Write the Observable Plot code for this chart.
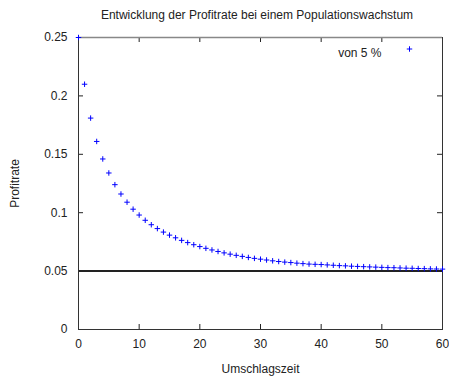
<!DOCTYPE html>
<html>
<head>
<meta charset="utf-8">
<script src="https://cdn.jsdelivr.net/npm/d3@7"></script>
<script src="https://cdn.jsdelivr.net/npm/@observablehq/plot@0.6"></script>
<style>
  body { margin: 0; background: #fff; }
  #title { font-family: "Liberation Sans", Arial, sans-serif; font-size: 12px; color: #222;
           height: 30px; line-height: 30px; padding-left: 78px; width: 358px; text-align: center; white-space: nowrap; }
</style>
</head>
<body>
<div id="title">Entwicklung der Profitrate bei einem Populationswachstum</div>
<div id="chart"></div>
<script>
const turnover = [0,1,2,3,4,5,6,7,8,9,10,11,12,13,14,15,16,17,18,19,20,21,22,23,24,25,26,27,28,29,30,
  31,32,33,34,35,36,37,38,39,40,41,42,43,44,45,46,47,48,49,50,51,52,53,54,55,56,57,58,59,60];
const profitRate = [0.25,0.210,0.181,0.161,0.146,0.134,0.124,0.116,0.109,0.103,0.098,
  0.0935,0.0897,0.0864,0.0834,0.0808,0.0785,0.0763,0.0744,0.0726,0.0710,
  0.0695,0.0681,0.0668,0.0656,0.0645,0.0635,0.0626,0.0617,0.0609,0.0602,
  0.0595,0.0588,0.0582,0.0577,0.0573,0.0568,0.0564,0.0560,0.0558,0.0556,
  0.0553,0.0550,0.0547,0.0545,0.0542,0.0540,0.0538,0.0536,0.0534,0.0532,
  0.0530,0.0529,0.0527,0.0525,0.0524,0.0522,0.0521,0.0519,0.0518,0.0517];
const baseline = [0.05];
const xTicks = [0,10,20,30,40,50,60];
const yTicks = [0,0.05,0.1,0.15,0.2,0.25];
const seriesLabel = "von 5 %";
const xLabel = "Umschlagszeit";
const yLabel = "Profitrate";

const points = turnover.map((t, i) => ({t, r: profitRate[i]}));

const W = 449, H = 346, mt = 7, mb = 47, ml = 78, mr = 7;
const fw = W - ml - mr, fh = H - mt - mb, tk = 5;
const ink = "#222";

const chart = Plot.plot({
  width: W, height: H,
  marginTop: mt, marginBottom: mb, marginLeft: ml, marginRight: mr,
  style: {fontFamily: "'Liberation Sans', Arial, sans-serif", fontSize: "12px", color: ink, background: "#fff"},
  x: {domain: [0, 60]},
  y: {domain: [0, 0.25]},
  marks: [
    Plot.axisX({ticks: xTicks, tickSize: 0, tickPadding: 10, label: xLabel, labelAnchor: "center", labelArrow: "none", labelOffset: 43}),
    Plot.axisY({ticks: yTicks, tickSize: 0, tickPadding: 11, tickFormat: d => String(d), label: yLabel, labelAnchor: "center", labelArrow: "none", labelOffset: 68}),
    Plot.tickX(xTicks, {x: d => d, insetTop: fh - tk, stroke: ink}),
    Plot.tickX(xTicks, {x: d => d, insetBottom: fh - tk, stroke: ink}),
    Plot.tickY(yTicks, {y: d => d, insetRight: fw - tk, stroke: ink}),
    Plot.tickY(yTicks, {y: d => d, insetLeft: fw - tk, stroke: ink}),
    Plot.ruleY(baseline, {stroke: ink, strokeWidth: 2}),
    Plot.frame({stroke: "#333"}),
    Plot.ruleY([0.25], {stroke: "#888", strokeWidth: 1.5}),
    Plot.dot(points, {x: "t", y: "r", symbol: "plus", r: 1.9, stroke: "#0000ff", strokeWidth: 1}),
    Plot.text([seriesLabel], {text: d => d, frameAnchor: "top-right", dx: -61, dy: 11, textAnchor: "end", fill: ink}),
    Plot.dot([seriesLabel], {frameAnchor: "top-right", dx: -33, dy: 11.5, symbol: "plus", r: 1.9, stroke: "#0000ff", strokeWidth: 1})
  ]
});
document.getElementById("chart").appendChild(chart);
</script>
</body>
</html>
